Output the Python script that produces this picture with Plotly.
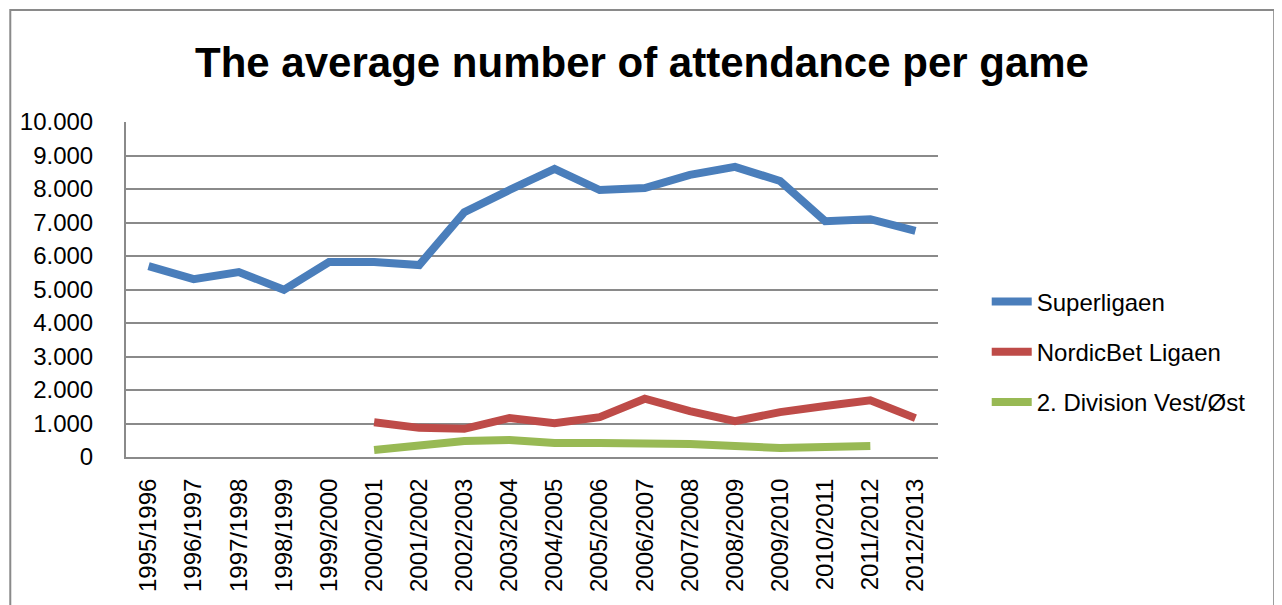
import plotly.graph_objects as go

seasons = ["1995/1996", "1996/1997", "1997/1998", "1998/1999", "1999/2000",
           "2000/2001", "2001/2002", "2002/2003", "2003/2004", "2004/2005",
           "2005/2006", "2006/2007", "2007/2008", "2008/2009", "2009/2010",
           "2010/2011", "2011/2012", "2012/2013"]

superligaen = [5700, 5310, 5520, 4990, 5820, 5820, 5730, 7310, 7970, 8600,
               7970, 8030, 8420, 8660, 8240, 7040, 7100, 6750]

nordicbet = [None, None, None, None, None, 1040, 870, 840, 1160, 1010,
             1190, 1740, 1370, 1070, 1340, 1520, 1690, 1160]

division2 = [None, None, None, None, None, 210, 360, 480, 510, 420,
             420, 420, 390, 330, 270, 300, 330, None]

series_names = ["Superligaen", "NordicBet Ligaen", "2. Division Vest/Øst"]
series_colors = ["#4A7EBB", "#BE4B48", "#98B954"]
y_ticks = list(range(0, 10001, 1000))

FONT = "Liberation Sans"
GRID = "#8A8A8A"

# page body has an 8px margin; figure is sized to fit inside the window
W, H = 1274, 597
L, T, PW, PH = 116, 114, 814, 335

fig = go.Figure()
for name, vals, col in zip(series_names, [superligaen, nordicbet, division2], series_colors):
    fig.add_trace(go.Scatter(
        x=seasons, y=vals, name=name, mode="lines",
        line=dict(color=col, width=8),
        legendgroup=name,
    ))

fig.update_layout(
    width=W, height=H,
    margin=dict(l=L, r=W - L - PW, t=T, b=H - T - PH, pad=0),
    paper_bgcolor="white", plot_bgcolor="white",
    separators=",.",
    title=dict(text="<b>The average number of attendance per game</b>",
               x=634 / W, xref="container", xanchor="center",
               y=1 - 54 / H, yref="container", yanchor="middle",
               font=dict(family=FONT, size=42, color="black")),
    showlegend=True,
    legend=dict(x=1.060, xanchor="left", y=0.53, yanchor="top",
                font=dict(family=FONT, size=24, color="black"),
                tracegroupgap=16, itemwidth=40,
                bgcolor="rgba(0,0,0,0)"),
    font=dict(family=FONT, color="black"),
    xaxis=dict(type="category", range=[-0.5, 17.5],
               showgrid=False, showline=True, linecolor=GRID, linewidth=2,
               tickangle=-90, tickfont=dict(family=FONT, size=24, color="black"),
               ticks="", ticklabelstandoff=10),
    yaxis=dict(range=[0, 10000], tickvals=y_ticks, tickformat=",d",
               showgrid=True, gridcolor=GRID, gridwidth=2,
               showline=True, linecolor=GRID, linewidth=2, zeroline=False,
               tickfont=dict(family=FONT, size=24, color="black"),
               ticks="", ticklabelstandoff=26),
    shapes=[dict(type="rect", xref="paper", yref="paper",
                 x0=(0 - L) / PW, x1=(1267 - L) / PW,
                 y0=(T + PH - 640) / PH, y1=(T + PH - 2) / PH,
                 line=dict(color=GRID, width=2), layer="below")],
)

fig.write_html("out.html")
